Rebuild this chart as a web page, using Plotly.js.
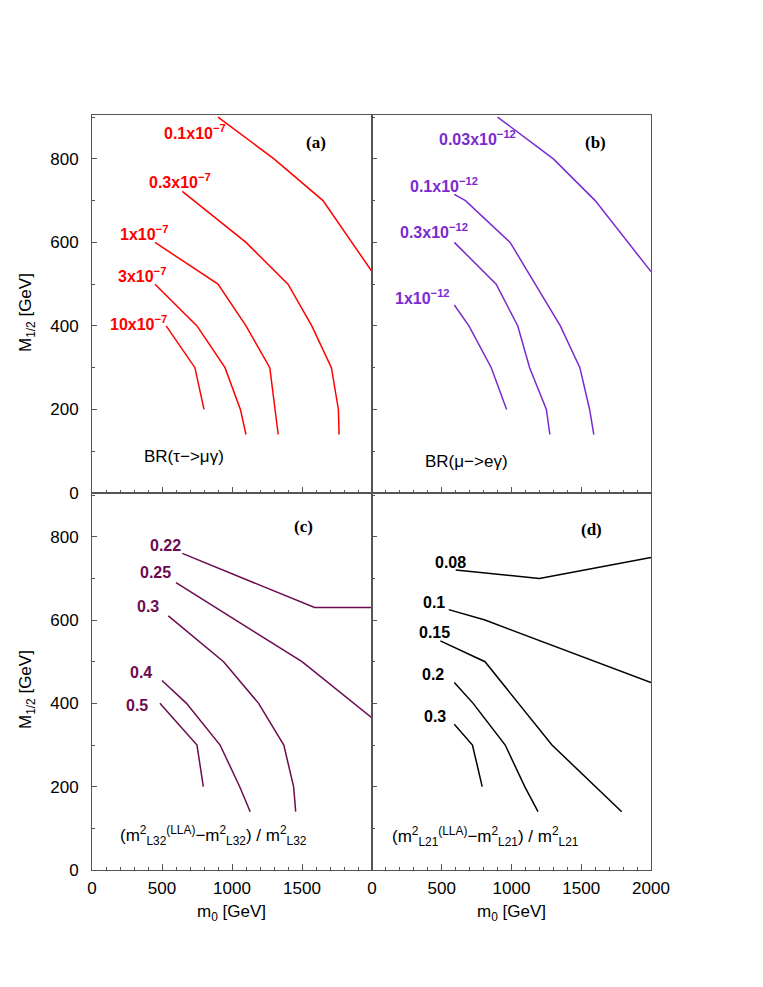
<!DOCTYPE html>
<html><head><meta charset="utf-8">
<script src="https://cdn.plot.ly/plotly-3.0.1.min.js"></script>
<style>html,body{margin:0;padding:0;background:#fff}</style>
</head><body><div id="chart" style="width:763px;height:987px"></div>
<script>
// ---- Panel (a): BR(tau -> mu gamma) contours ----
const aLabels = ['0.1x10<sup>−7</sup>', '0.3x10<sup>−7</sup>', '1x10<sup>−7</sup>', '3x10<sup>−7</sup>', '10x10<sup>−7</sup>'];
const aM0  = [[900,1300,1650,2000],[645,1100,1400,1570,1710,1760,1765],[450,900,1100,1270,1330],[450,750,950,1060,1100],[530,735,800]];
const aM12 = [[900,800,700,530],[722,600,500,400,300,200,140],[600,500,400,300,140],[500,400,300,200,140],[400,300,200]];
// ---- Panel (b): BR(mu -> e gamma) contours ----
const bLabels = ['0.03x10<sup>−12</sup>', '0.1x10<sup>−12</sup>', '0.3x10<sup>−12</sup>', '1x10<sup>−12</sup>'];
const bM0  = [[900,1300,1600,2000],[590,670,990,1350,1490,1560,1590],[590,890,1045,1130,1250,1275],[590,695,855,965]];
const bM12 = [[900,800,700,530],[715,700,600,400,300,200,140],[600,500,400,300,200,140],[450,400,300,200]];
// ---- Panel (c): (m2_L32(LLA) - m2_L32)/m2_L32 ----
const cLabels = ['0.22', '0.25', '0.3', '0.4', '0.5'];
const cM0  = [[645,1590,2000],[600,1500,2000],[545,940,1190,1370,1440,1455],[500,675,915,1055,1130],[485,750,795]];
const cM12 = [[760,630,630],[690,500,365],[610,500,400,300,200,140],[455,400,300,200,140],[400,300,200]];
// ---- Panel (d): (m2_L21(LLA) - m2_L21)/m2_L21 ----
const dLabels = ['0.08', '0.1', '0.15', '0.2', '0.3'];
const dM0  = [[600,1200,2000],[550,810,2000],[490,810,1290,1600,1790],[590,725,955,1095,1190],[590,720,790]];
const dM12 = [[720,700,750],[625,600,450],[550,500,300,200,140],[450,400,300,200,140],[350,300,200]];

const xTicksLeft = [0,500,1000,1500];
const xTicksRight = [0,500,1000,1500,2000];
const yTicks = [0,200,400,600,800];

const colA = '#ff0000', colB = '#7a2bd0', colC = '#6c0b4f', colD = '#000000';
const FONT = 'Liberation Sans, Arial, Helvetica, sans-serif';
const SERIF = 'Liberation Serif, Times New Roman, serif';

const traces = [];
function addPanel(xs, ys, color, xa, ya) {
  xs.forEach((x, i) => {
    traces.push({x: x, y: ys[i], type: 'scatter', mode: 'lines', xaxis: xa, yaxis: ya,
      line: {color: color, width: 1.5}, hoverinfo: 'skip', showlegend: false});
  });
}
addPanel(aM0, aM12, colA, 'x3', 'y3');
addPanel(bM0, bM12, colB, 'x4', 'y4');
addPanel(cM0, cM12, colC, 'x', 'y');
addPanel(dM0, dM12, colD, 'x2', 'y2');

const xL = [92/763, 372/763], xR = [372/763, 651/763];
const yT = [(987-493)/987, (987-115)/987], yB = [(987-870)/987, (987-493)/987];
const LC = '#555';

function xaxis(dom, anchor, vals, labels) {
  return {domain: dom, anchor: anchor, range: [0, 2000], tickmode: 'array', tickvals: vals,
    ticktext: vals.map(String), showticklabels: labels, ticks: 'inside', ticklen: 6, tickcolor: LC,
    minor: {tickmode: 'linear', tick0: 0, dtick: 100, ticks: 'inside', ticklen: 3, tickcolor: LC},
    showline: true, linecolor: LC, linewidth: 1, mirror: true, showgrid: false, zeroline: false,
    tickfont: {family: FONT, size: 17, color: '#000'}, ticklabelstandoff: 3, fixedrange: true};
}
function yaxis(dom, anchor, labels) {
  return {domain: dom, anchor: anchor, range: [0, 905], tickmode: 'array', tickvals: yTicks,
    ticktext: yTicks.map(String), showticklabels: labels, ticks: 'inside', ticklen: 5, tickcolor: LC,
    minor: {tickmode: 'linear', tick0: 0, dtick: 100, ticks: 'inside', ticklen: 3, tickcolor: LC},
    showline: true, linecolor: LC, linewidth: 1, mirror: true, showgrid: false, zeroline: false,
    tickfont: {family: FONT, size: 17, color: '#000'}, ticklabelstandoff: 9, fixedrange: true};
}

const ann = [];
function lab(text, x, y, xr, yr, color, opts) {
  ann.push(Object.assign({text: text, x: x, y: y, xref: xr, yref: yr, xanchor: 'left', yanchor: 'middle',
    showarrow: false, font: {family: FONT, size: 16, color: color, weight: 'bold'}}, opts || {}));
}
// panel (a) labels
const aPos = [[500,865],[391,747],[188,623],[169,522],[112,408]];
aLabels.forEach((t, i) => lab(t, aPos[i][0], aPos[i][1], 'x3', 'y3', colA));
lab('(a)', 1598, 840, 'x3', 'y3', '#000', {xanchor: 'center', font: {family: SERIF, size: 17, color: '#000', weight: 'bold'}});
lab('BR(τ−>μγ)', 360, 87, 'x3', 'y3', '#000', {font: {family: FONT, size: 17, color: '#000'}});
// panel (b)
const bPos = [[464,851],[261,738],[189,627],[153,470]];
bLabels.forEach((t, i) => lab(t, bPos[i][0], bPos[i][1], 'x4', 'y4', colB));
lab('(b)', 1599, 838, 'x4', 'y4', '#000', {xanchor: 'center', font: {family: SERIF, size: 17, color: '#000', weight: 'bold'}});
lab('BR(μ−>eγ)', 362, 75, 'x4', 'y4', '#000', {font: {family: FONT, size: 17, color: '#000'}});
// panel (c)
const cPos = [[402,780],[331,714],[307,633],[260,474],[231,394]];
cLabels.forEach((t, i) => lab(t, cPos[i][0], cPos[i][1], 'x', 'y', colC));
lab('(c)', 1509, 824, 'x', 'y', '#000', {xanchor: 'center', font: {family: SERIF, size: 17, color: '#000', weight: 'bold'}});
lab('(m<sup>2</sup><sub>L32</sub><sup>(LLA)</sup>−m<sup>2</sup><sub>L32</sub>) / m<sup>2</sup><sub>L32</sub>', 188, 84, 'x', 'y', '#000', {font: {family: FONT, size: 17, color: '#000'}});
// panel (d)
const dPos = [[439,739],[351,643],[320,571],[344,470],[356,368]];
dLabels.forEach((t, i) => lab(t, dPos[i][0], dPos[i][1], 'x2', 'y2', colD));
lab('(d)', 1575, 818, 'x2', 'y2', '#000', {xanchor: 'center', font: {family: SERIF, size: 17, color: '#000', weight: 'bold'}});
lab('(m<sup>2</sup><sub>L21</sub><sup>(LLA)</sup>−m<sup>2</sup><sub>L21</sub>) / m<sup>2</sup><sub>L21</sub>', 129, 80, 'x2', 'y2', '#000', {font: {family: FONT, size: 17, color: '#000'}});
// axis titles
const tf = {family: FONT, size: 17, color: '#000'};
ann.push({text: 'M<sub>1/2</sub> [GeV]', x: 27/763, y: 1-313/987, xref: 'paper', yref: 'paper', textangle: -90, showarrow: false, font: tf, xanchor: 'center', yanchor: 'middle'});
ann.push({text: 'M<sub>1/2</sub> [GeV]', x: 27/763, y: 1-690/987, xref: 'paper', yref: 'paper', textangle: -90, showarrow: false, font: tf, xanchor: 'center', yanchor: 'middle'});
ann.push({text: 'm<sub>0</sub> [GeV]', x: 231/763, y: 1-913/987, xref: 'paper', yref: 'paper', showarrow: false, font: tf, xanchor: 'center', yanchor: 'middle'});
ann.push({text: 'm<sub>0</sub> [GeV]', x: 511/763, y: 1-913/987, xref: 'paper', yref: 'paper', showarrow: false, font: tf, xanchor: 'center', yanchor: 'middle'});

const layout = {
  width: 763, height: 987, margin: {l: 0, r: 0, t: 0, b: 0}, paper_bgcolor: '#fff', plot_bgcolor: '#fff',
  showlegend: false,
  xaxis: xaxis(xL, 'y', xTicksLeft, true),
  yaxis: yaxis(yB, 'x', true),
  xaxis2: xaxis(xR, 'y2', xTicksRight, true),
  yaxis2: yaxis(yB, 'x2', false),
  xaxis3: xaxis(xL, 'y3', xTicksLeft, false),
  yaxis3: yaxis(yT, 'x3', true),
  xaxis4: xaxis(xR, 'y4', xTicksRight, false),
  yaxis4: yaxis(yT, 'x4', false),
  annotations: ann
};
Plotly.newPlot('chart', traces, layout, {staticPlot: true, displayModeBar: false});
</script></body></html>
